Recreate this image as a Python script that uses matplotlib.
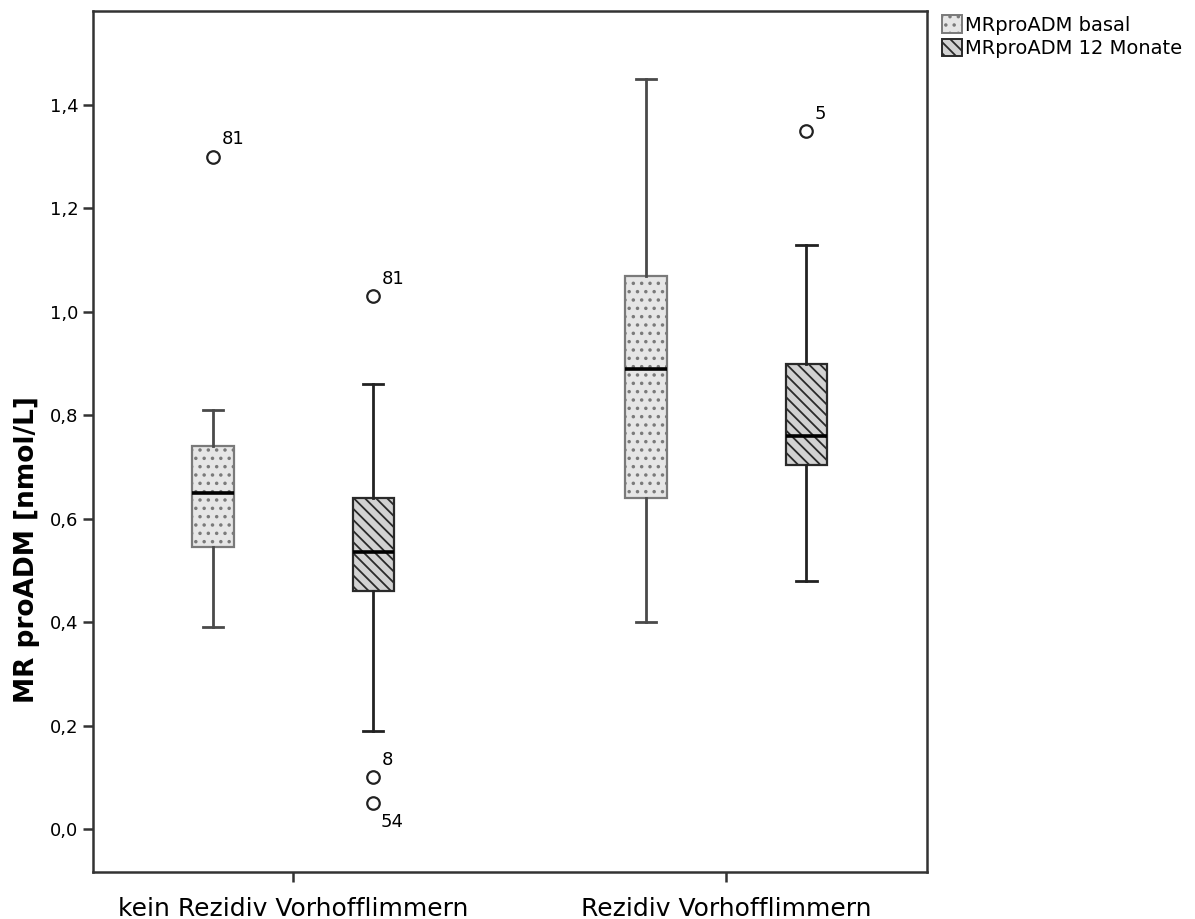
import matplotlib.pyplot as plt
from matplotlib.patches import Patch

categories = ['kein Rezidiv Vorhofflimmern', 'Rezidiv Vorhofflimmern']
series = ['MRproADM basal', 'MRproADM 12 Monate']

# five-number summaries per series, one entry per category
basal_low = [0.39, 0.40]
basal_q1 = [0.545, 0.64]
basal_med = [0.65, 0.89]
basal_q3 = [0.74, 1.07]
basal_high = [0.81, 1.45]
basal_out = [[1.30], []]
basal_out_ids = [['81'], []]

m12_low = [0.19, 0.48]
m12_q1 = [0.46, 0.705]
m12_med = [0.535, 0.76]
m12_q3 = [0.64, 0.90]
m12_high = [0.86, 1.13]
m12_out = [[1.03, 0.10, 0.05], [1.35]]
m12_out_ids = [['81', '8', '54'], ['5']]

yticks = [0.0, 0.2, 0.4, 0.6, 0.8, 1.0, 1.2, 1.4]

plt.rcParams['hatch.linewidth'] = 1.3

fig = plt.figure(figsize=(11.95, 9.19), dpi=100)
ax = fig.add_axes([0.0778, 0.0511, 0.698, 0.937])

offset = 0.185
width = 0.095


def make_stats(low, q1, med, q3, high, out):
    return [dict(whislo=low[i], q1=q1[i], med=med[i], q3=q3[i], whishi=high[i],
                 fliers=out[i]) for i in range(len(low))]


styles = [
    dict(face='#e6e6e6', edge='#7a7a7a', hatch='..', whisk='#4a4a4a'),
    dict(face='#d2d2d2', edge='#2a2a2a', hatch='\\\\\\', whisk='#222222'),
]
all_stats = [
    make_stats(basal_low, basal_q1, basal_med, basal_q3, basal_high, basal_out),
    make_stats(m12_low, m12_q1, m12_med, m12_q3, m12_high, m12_out),
]
all_ids = [basal_out_ids, m12_out_ids]

for s, (stats, st) in enumerate(zip(all_stats, styles)):
    pos = [i + (s * 2 - 1) * offset for i in range(len(categories))]
    ax.bxp(stats, positions=pos, widths=width, patch_artist=True,
           showfliers=True, capwidths=width / 2,
           boxprops=dict(facecolor=st['face'], edgecolor=st['edge'],
                         linewidth=1.6, hatch=st['hatch']),
           whiskerprops=dict(color=st['whisk'], linewidth=2),
           capprops=dict(color=st['whisk'], linewidth=2),
           medianprops=dict(color='black', linewidth=2.6),
           flierprops=dict(marker='o', markerfacecolor='white',
                           markeredgecolor='#222222', markersize=9,
                           markeredgewidth=1.6))
    for i, st_i in enumerate(stats):
        for v, lab in zip(st_i['fliers'], all_ids[s][i]):
            if lab == '54':
                ax.annotate(lab, (pos[i], v), xytext=(5, -7), textcoords='offset points',
                            fontsize=13, ha='left', va='top')
            else:
                ax.annotate(lab, (pos[i], v), xytext=(6, 6), textcoords='offset points',
                            fontsize=13, ha='left', va='bottom')

ax.set_xlim(-0.462, 1.464)
ax.set_ylim(-0.083, 1.582)
ax.set_xticks(range(len(categories)))
ax.set_xticklabels(categories, fontsize=18)
ax.set_yticks(yticks)
ax.set_yticklabels([f'{t:.1f}'.replace('.', ',') for t in yticks], fontsize=13)
ax.tick_params(axis='both', length=7, width=1.8, color='#333333')
ax.tick_params(axis='x', pad=11)
ax.set_ylabel('MR proADM [nmol/L]', fontsize=19, fontweight='bold')
ax.yaxis.set_label_coords(-0.063, 0.374)
for sp in ax.spines.values():
    sp.set_linewidth(1.8)
    sp.set_color('#333333')

handles = [Patch(facecolor=st['face'], edgecolor=st['edge'], hatch=st['hatch'],
                 linewidth=1.4) for st in styles]
fig.legend(handles, series, loc='upper left', bbox_to_anchor=(0.777, 0.998),
           frameon=False, fontsize=14, handlelength=1.0, handleheight=1.0,
           handletextpad=0.2, labelspacing=0.2, borderpad=0.2)

fig.savefig('out.png', dpi=100)
